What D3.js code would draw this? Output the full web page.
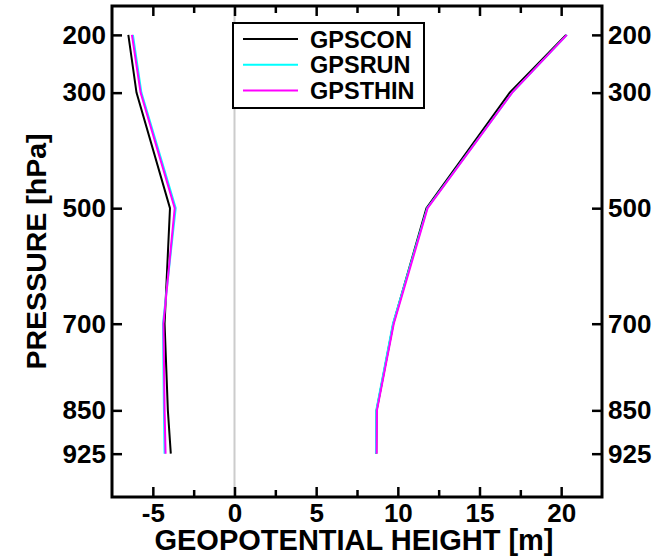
<!DOCTYPE html>
<html>
<head>
<meta charset="utf-8">
<script src="https://cdn.jsdelivr.net/npm/d3@7"></script>
<style>
  html, body { margin: 0; padding: 0; background: #fff; }
  svg { display: block; }
  text { font-family: "Liberation Sans", Arial, Helvetica, sans-serif; font-weight: bold; fill: #000; }
</style>
</head>
<body>
<svg id="chart" width="657" height="560"></svg>
<script>
// Pressure levels (hPa)
const levels = [200, 300, 500, 700, 850, 925];

// Experiments and their line colours
const experiments = ["GPSCON", "GPSRUN", "GPSTHIN"];
const colors = ["#000000", "#00ffff", "#ff00ff"];

// Mean geopotential height difference (m) per level
const biasGPSCON  = [-6.50, -6.00, -3.95, -4.28, -4.08, -3.90];
const biasGPSRUN  = [-6.22, -5.70, -3.60, -4.38, -4.32, -4.28];
const biasGPSTHIN = [-6.28, -5.75, -3.66, -4.35, -4.28, -4.22];

// RMS geopotential height difference (m) per level
const rmsGPSCON  = [20.30, 16.85, 11.75, 9.72, 8.70, 8.68];
const rmsGPSRUN  = [20.35, 17.00, 11.80, 9.70, 8.68, 8.66];
const rmsGPSTHIN = [20.35, 17.00, 11.82, 9.75, 8.72, 8.70];

// Axis ticks
const xMajorTicks = [-5, 0, 5, 10, 15, 20];
const xMinorTicks = [-2.5, 2.5, 7.5, 12.5, 17.5];

const biasSeries = [biasGPSCON, biasGPSRUN, biasGPSTHIN];
const rmsSeries  = [rmsGPSCON, rmsGPSRUN, rmsGPSTHIN];

const svg = d3.select("#chart");
const plotL = 112, plotR = 602, plotT = 6, plotB = 497;

const x = d3.scaleLinear().domain([-7.5, 22.5]).range([plotL, plotR]);
const y = d3.scaleLinear().domain([150, 1000]).range([plotT, plotB]);

// zero reference line
svg.append("line")
  .attr("x1", x(0)).attr("x2", x(0))
  .attr("y1", plotT).attr("y2", plotB)
  .attr("stroke", "#cccccc").attr("stroke-width", 2);

// profiles: black first, magenta on top
const line = d3.line()
  .x(d => x(d[0]))
  .y(d => y(d[1]));

experiments.forEach((name, i) => {
  [biasSeries[i], rmsSeries[i]].forEach(vals => {
    svg.append("path")
      .datum(vals.map((v, k) => [v, levels[k]]))
      .attr("d", line)
      .attr("fill", "none")
      .attr("stroke", colors[i])
      .attr("stroke-width", 2)
      .attr("stroke-linejoin", "miter");
  });
});

// frame
svg.append("rect")
  .attr("x", plotL).attr("y", plotT)
  .attr("width", plotR - plotL).attr("height", plotB - plotT)
  .attr("fill", "none").attr("stroke", "#000").attr("stroke-width", 3);

// x axes (bottom and top) with inward ticks
const xBottom = svg.append("g").attr("transform", `translate(0,${plotB})`)
  .call(d3.axisBottom(x).tickValues(xMajorTicks).tickSize(-10).tickFormat(d3.format("d")).tickPadding(7));
const xBottomMinor = svg.append("g").attr("transform", `translate(0,${plotB})`)
  .call(d3.axisBottom(x).tickValues(xMinorTicks).tickSize(-7).tickFormat(""));
const xTop = svg.append("g").attr("transform", `translate(0,${plotT})`)
  .call(d3.axisTop(x).tickValues(xMajorTicks).tickSize(-10).tickFormat(""));
const xTopMinor = svg.append("g").attr("transform", `translate(0,${plotT})`)
  .call(d3.axisTop(x).tickValues(xMinorTicks).tickSize(-7).tickFormat(""));

// y axes (left and right) with inward ticks
const yLeft = svg.append("g").attr("transform", `translate(${plotL},0)`)
  .call(d3.axisLeft(y).tickValues(levels).tickSize(-10).tickFormat(d3.format("d")).tickPadding(6));
const yRight = svg.append("g").attr("transform", `translate(${plotR},0)`)
  .call(d3.axisRight(y).tickValues(levels).tickSize(-10).tickFormat(d3.format("d")).tickPadding(6));

[xBottom, xBottomMinor, xTop, xTopMinor, yLeft, yRight].forEach(g => {
  g.select(".domain").remove();
  g.selectAll(".tick line").attr("stroke", "#000").attr("stroke-width", 2.5);
  g.selectAll(".tick text")
    .attr("font-family", "Liberation Sans, Arial, sans-serif")
    .attr("font-weight", "bold")
    .attr("font-size", 26)
    .attr("fill", "#000");
});
xBottom.selectAll(".tick text").text(d => d < 0 ? "-" + Math.abs(d) : d);

// axis titles
svg.append("text")
  .attr("x", 354).attr("y", 550)
  .attr("text-anchor", "middle")
  .attr("font-size", 29)
  .text("GEOPOTENTIAL HEIGHT [m]");

svg.append("text")
  .attr("transform", `translate(46,${(plotT + plotB) / 2}) rotate(-90)`)
  .attr("text-anchor", "middle")
  .attr("font-size", 28.5)
  .text("PRESSURE [hPa]");

// legend
const legend = svg.append("g");
legend.append("rect")
  .attr("x", 233).attr("y", 23).attr("width", 191).attr("height", 85)
  .attr("fill", "#fff").attr("stroke", "#000").attr("stroke-width", 2);
experiments.forEach((name, i) => {
  const ly = 39 + i * 25.8;
  legend.append("line")
    .attr("x1", 243).attr("x2", 298).attr("y1", ly).attr("y2", ly)
    .attr("stroke", colors[i]).attr("stroke-width", 2);
  legend.append("text")
    .attr("x", 310).attr("y", ly + 8.5)
    .attr("font-size", 23.5)
    .text(name);
});
</script>
</body>
</html>
